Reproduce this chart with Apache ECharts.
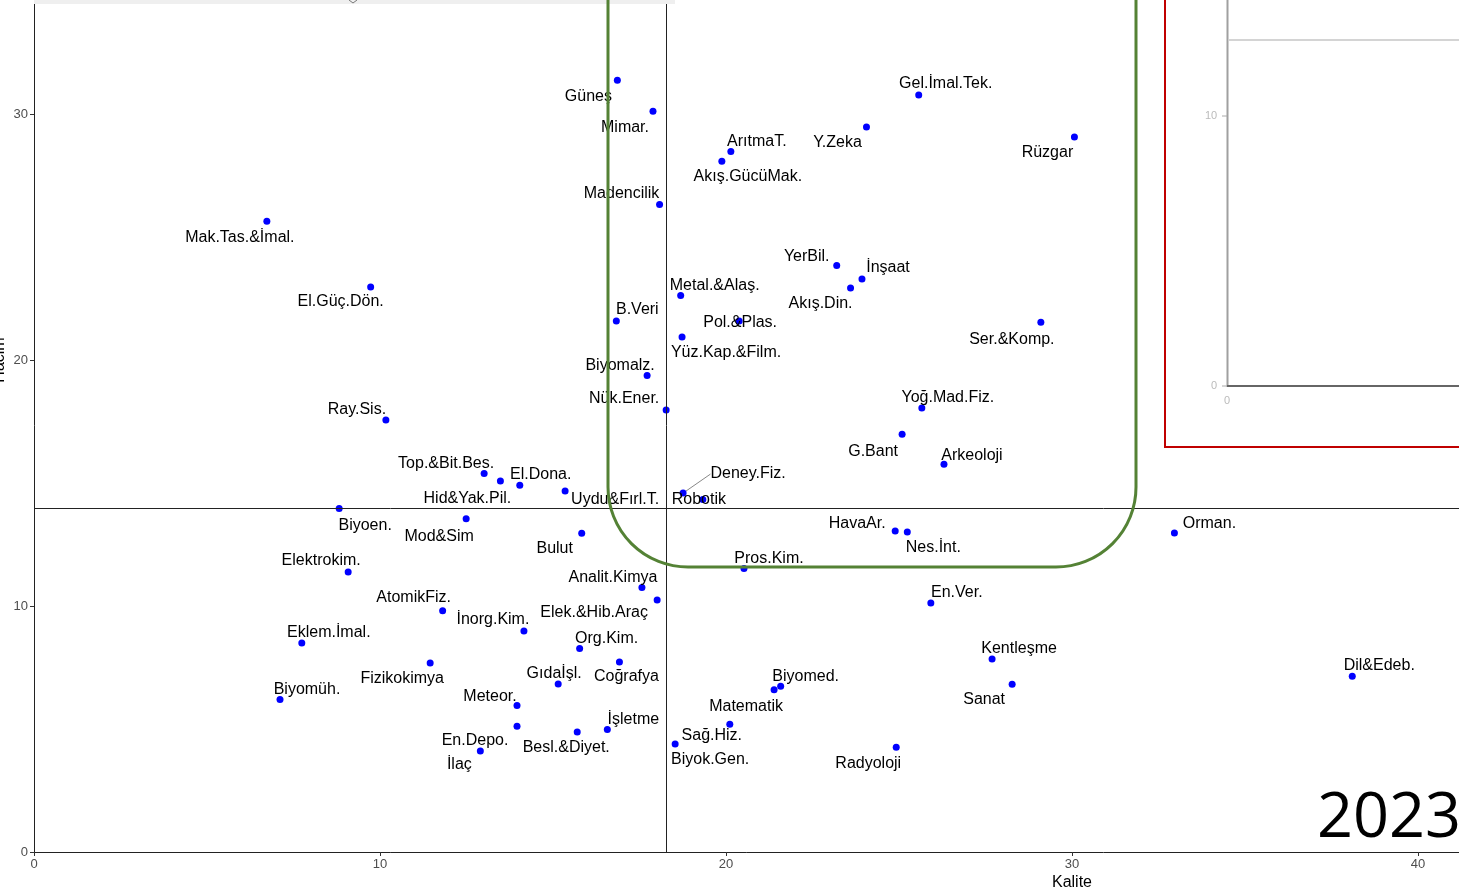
<!DOCTYPE html>
<html>
<head>
<meta charset="utf-8">
<script src="https://cdn.jsdelivr.net/npm/echarts@6/dist/echarts.min.js"></script>
<style>
html,body{margin:0;padding:0;background:#fff;overflow:hidden;}
#chart{width:1459px;height:893px;}
</style>
</head>
<body>
<div id="chart"></div>
<script>
// ---- data ----
const names = [
 "Güneş","Mimar.","ArıtmaT.","Akış.GücüMak.","Madencilik","Metal.&Alaş.","Gel.İmal.Tek.","Y.Zeka","Rüzgar","YerBil.",
 "İnşaat","Akış.Din.","Mak.Tas.&İmal.","El.Güç.Dön.","B.Veri","Pol.&Plas.","Yüz.Kap.&Film.","Biyomalz.","Nük.Ener.","Ray.Sis.",
 "Top.&Bit.Bes.","Hid&Yak.Pil.","El.Dona.","Uydu&Fırl.T.","Deney.Fiz.","Robotik","Biyoen.","Mod&Sim","Bulut","Elektrokim.",
 "Pros.Kim.","Analit.Kimya","Elek.&Hib.Araç","AtomikFiz.","İnorg.Kim.","Org.Kim.","Eklem.İmal.","Fizikokimya","Coğrafya","Gıdaİşl.",
 "Biyomüh.","Meteor.","En.Depo.","İlaç","Besl.&Diyet.","İşletme","Matematik","Biyomed.","Sağ.Hiz.","Biyok.Gen.",
 "Radyoloji","En.Ver.","Kentleşme","Sanat","HavaAr.","Nes.İnt.","Ser.&Komp.","Yoğ.Mad.Fiz.","G.Bant","Arkeoloji",
 "Orman.","Dil&Edeb."
];
const kalite = [
 16.86,17.89,20.14,19.88,18.08,18.69,25.57,24.06,30.07,23.20,
 23.93,23.60,6.73,9.73,16.83,20.38,18.73,17.72,18.27,10.17,
 13.01,13.48,14.04,15.35,18.76,19.33,8.82,12.49,15.83,9.08,
 20.52,17.57,18.01,11.81,14.16,15.77,7.74,11.45,16.92,15.15,
 7.11,13.96,13.96,12.90,15.70,16.57,21.39,21.58,20.11,18.53,
 24.92,25.92,27.69,28.27,24.89,25.24,29.10,25.66,25.09,26.30,
 32.96,38.10
];
const hacim = [
 31.37,30.11,28.48,28.08,26.32,22.62,30.77,29.47,29.07,23.84,
 23.29,22.93,25.64,22.97,21.59,21.59,20.93,19.37,17.97,17.56,
 15.39,15.08,14.91,14.67,14.59,14.33,13.96,13.55,12.96,11.38,
 11.52,10.75,10.24,9.81,8.98,8.27,8.50,7.68,7.72,6.83,
 6.20,5.96,5.11,4.11,4.88,4.98,6.60,6.74,5.19,4.39,
 4.26,10.12,7.85,6.82,13.05,13.01,21.53,18.05,16.98,15.76,
 12.97,7.14
];
const refKalite = 18.27;
const refHacim = 13.97;
const xTicks = {min:0, max:60, step:10};
const yTicks = {min:0, max:40, step:10};

// label placement (pixels, relative to the point)
const labelOffsets = [
 [-29,15],[-28,15],[26,-11],[26,14],[-38,-12],[34,-11],[27,-12],[-29,15],[-27,15],[-30,-10],
 [26,-12],[-30,15],[-27,15],[-30,14],[21,-12],[1,1],[44,14],[-27,-11],[-42,-12],[-29,-11],
 [-38,-11],[-33,17],[21,-12],[50,7],[65,-20],[-4,-1],[26,16],[-27,17],[-27,14],[-27,-12],
 [25,-11],[-29,-11],[-63,11],[-29,-14],[-31,-12],[27,-11],[27,-11],[-28,15],[7,14],[-4,-11],
 [27,-11],[-27,-10],[-42,13],[-21,13],[-11,15],[26,-11],[-28,16],[25,-11],[-18,10],[35,15],
 [-28,15],[26,-11],[27,-11],[-28,14],[-38,-8],[26,15],[-29,16],[26,-11],[-29,16],[28,-10],
 [35,-10],[27,-12]
];
const leaderLabels = ["Deney.Fiz."];

// ---- chart ----
const chart = echarts.init(document.getElementById('chart'), null, {renderer:'canvas'});
const points = names.map((n,i)=>{
  const item = {name:n, value:[kalite[i], hacim[i]]};
  if (leaderLabels.indexOf(n) >= 0) item.labelLine = {show:true, lineStyle:{color:'#888', width:1}};
  return item;
});
const font = '"Liberation Sans", Arial, sans-serif';

chart.setOption({
  animation:false,
  backgroundColor:'#fff',
  grid:{left:34, top:-132, width:2076, height:984, outerBoundsMode:'none', containLabel:false},
  xAxis:{
    type:'value', min:xTicks.min, max:xTicks.max, interval:xTicks.step,
    name:'Kalite', nameLocation:'middle', nameGap:23, nameMoveOverlap:false,
    nameTextStyle:{color:'#000', fontSize:16, fontFamily:font},
    axisLine:{show:true, onZero:false, lineStyle:{color:'#222', width:1}},
    axisTick:{show:true, length:4, lineStyle:{color:'#333'}},
    axisLabel:{color:'#4d4d4d', fontSize:13, fontFamily:font, margin:6},
    splitLine:{show:false}
  },
  yAxis:{
    type:'value', min:yTicks.min, max:yTicks.max, interval:yTicks.step,
    name:'Hacim', nameLocation:'middle', nameGap:26, nameRotate:90, nameMoveOverlap:false,
    nameTextStyle:{color:'#000', fontSize:16, fontFamily:font},
    axisLine:{show:true, onZero:false, lineStyle:{color:'#222', width:1}},
    axisTick:{show:true, length:4, lineStyle:{color:'#333'}},
    axisLabel:{color:'#4d4d4d', fontSize:13, fontFamily:font, margin:6},
    splitLine:{show:false}
  },
  series:[{
    type:'scatter',
    data:points,
    symbol:'circle',
    symbolSize:7,
    itemStyle:{color:'#0000ff', opacity:1},
    label:{show:true, position:'inside', formatter:'{b}', color:'#000', fontSize:16, fontFamily:font},
    labelLayout:function(p){ const o = labelOffsets[p.dataIndex]; return {dx:o[0], dy:o[1]+1}; },
    labelLine:{show:false},
    emphasis:{disabled:true},
    markLine:{
      silent:true, symbol:['none','none'], animation:false,
      label:{show:false},
      lineStyle:{color:'#222', width:1, type:'solid'},
      data:[{xAxis:refKalite},{yAxis:refHacim}]
    },
    z:3
  }],
  graphic:[
    {type:'rect', shape:{x:34, y:0, width:641, height:4}, style:{fill:'#efefef'}, z:50},
    {type:'polyline', shape:{points:[[349,0],[353,3],[357,0]]}, style:{stroke:'#777', lineWidth:1, fill:null}, z:51},
    {type:'rect', shape:{x:608, y:-95, width:528, height:662, r:80}, style:{fill:null, stroke:'#548235', lineWidth:3}, z:60},
    {type:'rect', shape:{x:1165, y:-10, width:400, height:457}, style:{fill:'#fff', stroke:'#c00000', lineWidth:2}, z:55},
    {type:'line', shape:{x1:1227.5, y1:0, x2:1227.5, y2:387}, style:{stroke:'#a0a0a0', lineWidth:2}, z:56},
    {type:'line', shape:{x1:1229, y1:40, x2:1460, y2:40}, style:{stroke:'#d4d4d4', lineWidth:2}, z:56},
    {type:'line', shape:{x1:1227, y1:386, x2:1460, y2:386}, style:{stroke:'#666', lineWidth:2}, z:56},
    {type:'line', shape:{x1:1222, y1:116, x2:1227, y2:116}, style:{stroke:'#aaa', lineWidth:1}, z:56},
    {type:'line', shape:{x1:1222, y1:386, x2:1227, y2:386}, style:{stroke:'#aaa', lineWidth:1}, z:56},
    {type:'text', style:{text:'10', x:1211, y:116, align:'center', verticalAlign:'middle', fill:'#bbb', font:'11px '+font}, z:57},
    {type:'text', style:{text:'0', x:1214, y:386, align:'center', verticalAlign:'middle', fill:'#bbb', font:'11px '+font}, z:57},
    {type:'text', style:{text:'0', x:1227, y:401, align:'center', verticalAlign:'middle', fill:'#bbb', font:'11px '+font}, z:57},
    {type:'text', style:{text:'2023', x:1461, y:819, align:'right', verticalAlign:'middle', fill:'#000', font:'63px "Open Sans", sans-serif'}, z:70}
  ]
});
</script>
</body>
</html>
